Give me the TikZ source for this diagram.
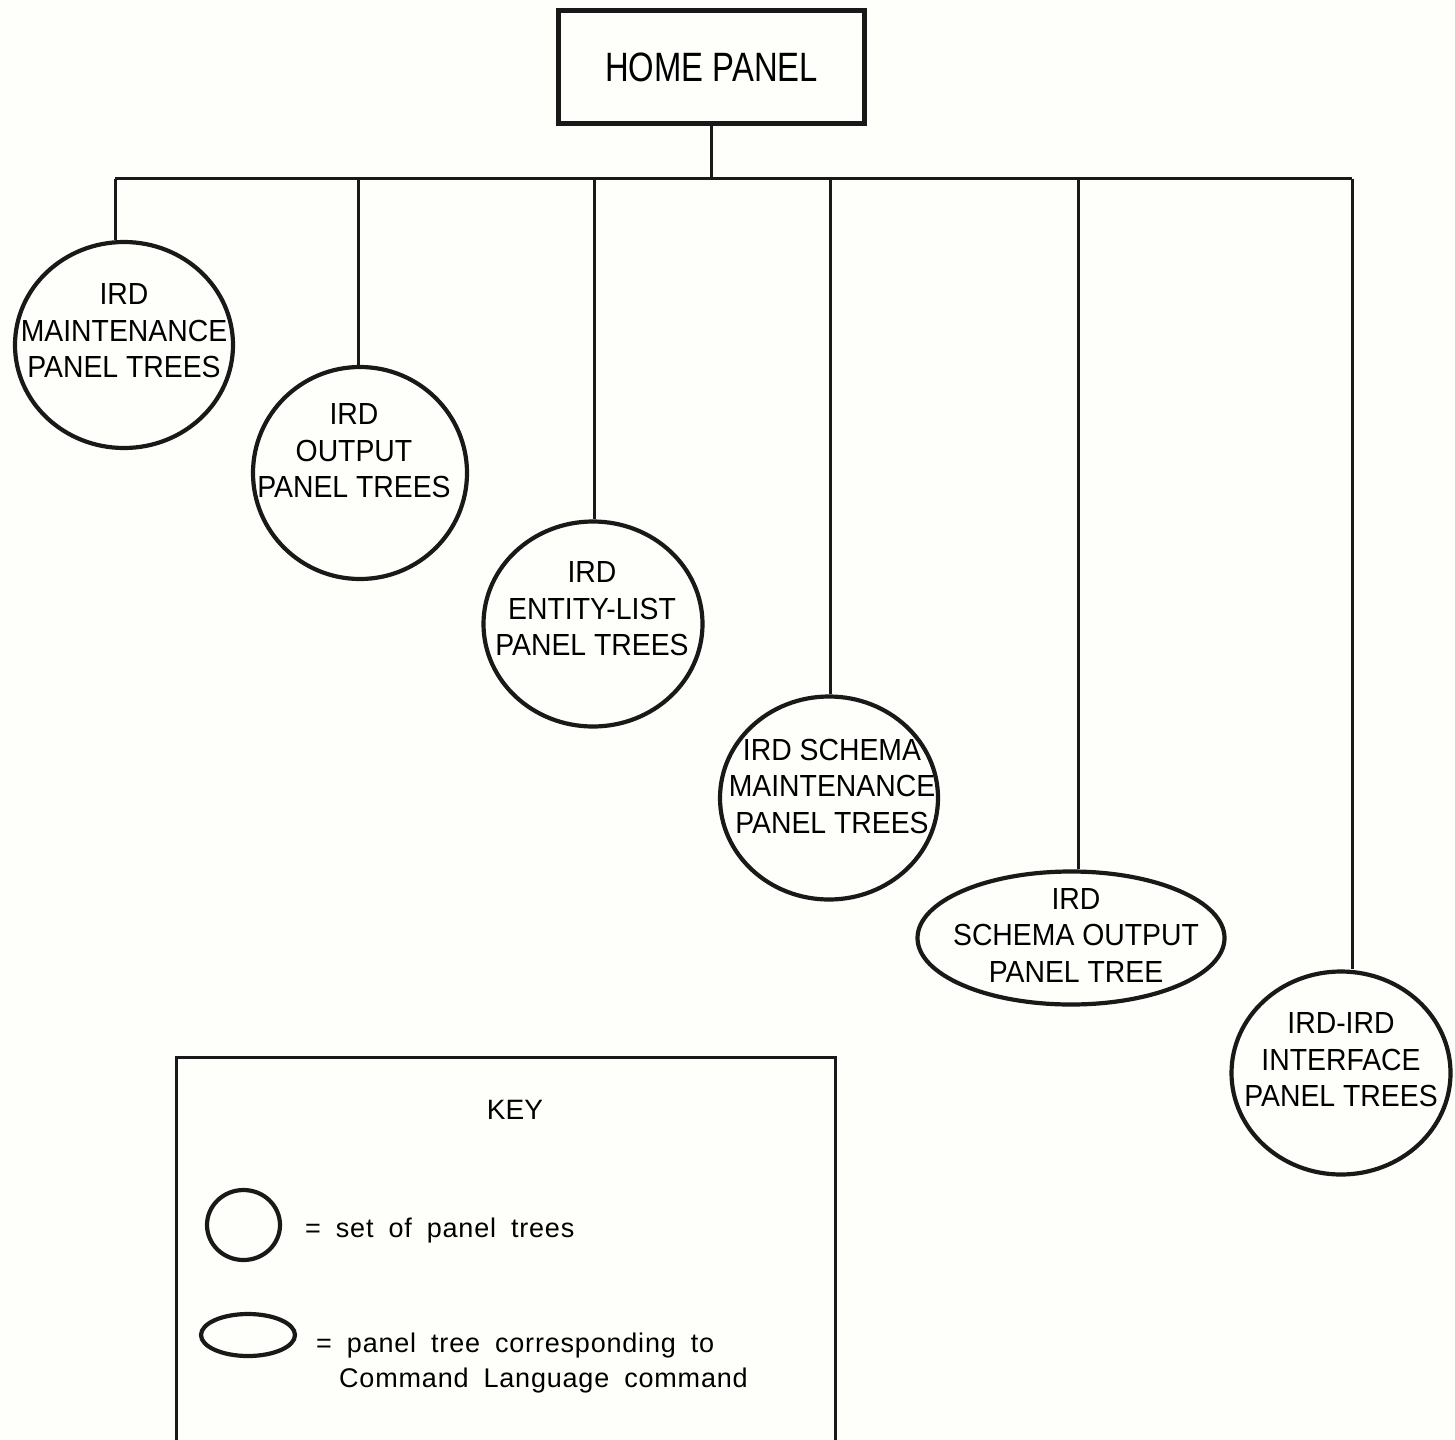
\documentclass[tikz,border=0pt]{standalone}
\usepackage{fontspec}
\setmainfont{Liberation Sans}
\newfontfamily\homefont[FakeStretch=0.80]{Liberation Sans}
\newfontfamily\ellfont[FakeStretch=0.93]{Liberation Sans}
\newfontfamily\keyfont[LetterSpace=3,WordSpace=1.8]{Liberation Sans}
\usetikzlibrary{shapes.geometric}
\definecolor{paper}{RGB}{254,254,250}
\definecolor{ink}{RGB}{25,25,25}
\begin{document}
\begin{tikzpicture}[x=1pt,y=-1pt,
  conn/.style={draw=ink,line width=3pt},
  homebox/.style={draw=ink,line width=5.5pt,rectangle,minimum width=306pt,minimum height=113pt,inner sep=0pt,
    font=\homefont\fontsize{41}{48}\selectfont},
  panel/.style={draw=ink,ellipse,line width=4.2pt,inner sep=0pt},
  ptext/.style={align=center,inner sep=0pt,font=\ellfont\fontsize{30.5}{36.5}\selectfont},
  keybox/.style={draw=ink,line width=3pt},
  keytext/.style={inner sep=0pt,font=\keyfont\fontsize{27}{32}\selectfont},
  keytitle/.style={inner sep=0pt,font=\fontsize{28}{34}\selectfont}
]
\fill[paper] (0,0) rectangle (1455,1439);
\clip (0,0) rectangle (1455,1439);

% home panel
\node[homebox] (home) at (711.5,67) {HOME PANEL};

% bus coordinates
\coordinate (d1) at (115,179);
\coordinate (d2) at (358,179);
\coordinate (d3) at (594,179);
\coordinate (d4) at (830,179);
\coordinate (d5) at (1078,179);
\coordinate (d6) at (1352,179);

% panel tree ellipses
\node[panel,minimum width=218pt,minimum height=206pt] (e1) at (124,345) {};
\node[panel,minimum width=214pt,minimum height=212pt] (e2) at (360,473) {};
\node[panel,minimum width=219pt,minimum height=205pt] (e3) at (593,624) {};
\node[panel,minimum width=218pt,minimum height=203pt] (e4) at (829,798) {};
\node[panel,minimum width=307pt,minimum height=133pt] (e5) at (1071,938) {};
\node[panel,minimum width=219pt,minimum height=203pt] (e6) at (1341,1073) {};

% texts
\node[ptext] (t1) at (124,331) {IRD\\MAINTENANCE\\PANEL TREES};
\node[ptext] (t2) at (354,451) {IRD\\OUTPUT\\PANEL TREES};
\node[ptext] (t3) at (592,609) {IRD\\ENTITY-LIST\\PANEL TREES};
\node[ptext] (t4) at (832,786) {IRD SCHEMA\\MAINTENANCE\\PANEL TREES};
\node[ptext] (t5) at (1076,935) {IRD\\SCHEMA OUTPUT\\PANEL TREE};
\node[ptext] (t6) at (1341,1060) {IRD-IRD\\INTERFACE\\PANEL TREES};

% connectors
\draw[conn] (home.south) -- (home.south |- d1);
\draw[conn] (d1) -- (d6);
\draw[conn] (d1) -- (d1 |- e1.north);
\draw[conn] (d2) -- (d2 |- e2.north);
\draw[conn] (d3) -- (d3 |- e3.north);
\draw[conn] (d4) -- (d4 |- e4.north);
\draw[conn] (d5) -- (d5 |- e5.north);
\draw[conn] (d6) -- (d6 |- e6.north);

% key box
\coordinate (kbl) at (176,1445);
\coordinate (ktl) at (176,1057);
\coordinate (ktr) at (835,1057);
\coordinate (kbr) at (835,1445);
\draw[keybox] (kbl) -- (ktl) -- (ktr) -- (kbr);
\node[keytitle] (keytitle) at (515,1110) {KEY};
\node[panel,line width=4.2pt,minimum width=73pt,minimum height=70pt] (kc) at (243.5,1225) {};
\node[panel,line width=4.2pt,minimum width=94pt,minimum height=42pt] (ke) at (248,1335) {};
\node[keytext,anchor=base west] (k1) at (305,1237) {= set of panel trees};
\node[keytext,anchor=base west] (k2) at (316,1352) {= panel tree corresponding to};
\node[keytext,anchor=base west] (k3) at (339,1387) {Command Language command};
\end{tikzpicture}
\end{document}
